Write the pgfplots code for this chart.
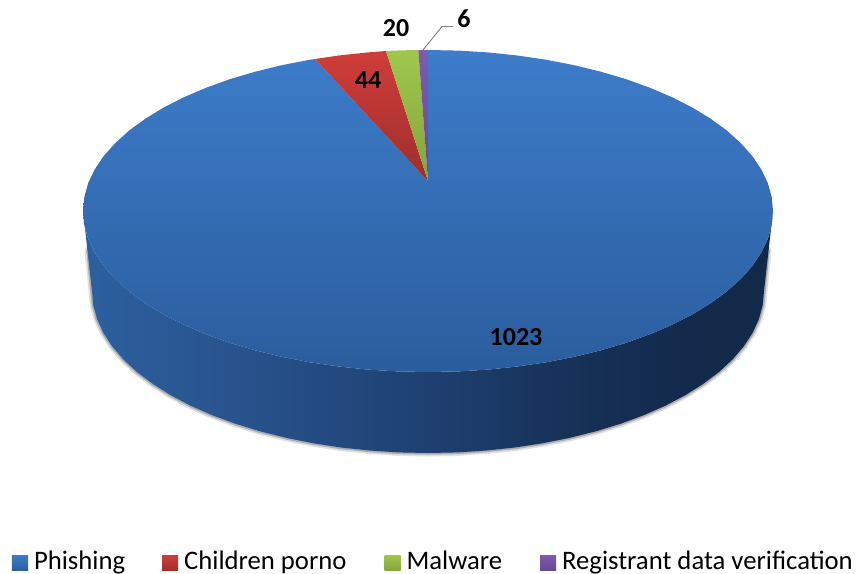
\documentclass[border=0pt]{standalone}
\usepackage{fontspec}
\setmainfont{Carlito}
\usepackage{pgfplots}
\usepackage{pgfplotstable}
\pgfplotsset{compat=1.18}
\definecolor{sA}{HTML}{2C609F}
\definecolor{sB}{HTML}{28538D}
\definecolor{sC}{HTML}{1E4071}
\definecolor{sD}{HTML}{162F54}
\definecolor{sE}{HTML}{12294A}
\definecolor{HTMLtopB}{HTML}{3D7CCA}
\definecolor{HTMLbotB}{HTML}{2B5D9D}
\definecolor{HTMLtopR}{HTML}{CF3D3A}
\definecolor{HTMLbotR}{HTML}{9E2E2C}
\definecolor{HTMLtopG}{HTML}{9FC74C}
\definecolor{HTMLbotG}{HTML}{84A43C}
\definecolor{HTMLtopP}{HTML}{7E5BAE}
\definecolor{HTMLbotP}{HTML}{664891}
\pgfdeclarehorizontalshading{pieside}{100bp}{color(0bp)=(sA); color(25bp)=(sA); color(36bp)=(sB); color(50bp)=(sC); color(62bp)=(sD); color(70bp)=(sE); color(100bp)=(sE)}
\pgfplotstableread{
x y
773 211
771.7 225.0
767.8 239.0
761.2 252.7
752.2 266.1
740.7 279.0
726.8 291.5
710.6 303.3
692.3 314.5
672.0 324.8
649.8 334.3
625.9 342.9
600.5 350.4
573.8 356.9
546.0 362.3
517.3 366.5
487.9 369.6
458.1 371.4
428 372
397.9 371.4
368.1 369.6
338.7 366.5
310.0 362.3
282.2 356.9
255.5 350.4
230.1 342.9
206.2 334.3
184.0 324.8
163.7 314.5
145.4 303.3
129.2 291.5
115.3 279.0
103.8 266.1
94.8 252.7
88.2 239.0
84.3 225.0
83 211
92 291
93.3 305.1
97.1 319.1
103.4 332.9
112.3 346.4
123.5 359.5
137 372
152.8 383.9
170.6 395.1
190.4 405.6
212 415.1
235.3 423.7
260 431.3
286 437.8
313.1 443.2
341 447.5
369.7 450.5
398.7 452.4
428 453
457.3 452.4
486.3 450.5
515 447.5
542.9 443.2
570 437.8
596 431.3
620.7 423.7
644 415.1
665.6 405.6
685.4 395.1
703.2 383.9
719 372
732.5 359.5
743.7 346.4
752.6 332.9
758.9 319.1
762.7 305.1
764 291
}\sidetbl
\pgfplotstableread{
x y
88 250
92 291
93.3 305.1
97.1 319.1
103.4 332.9
112.3 346.4
123.5 359.5
137 372
152.8 383.9
170.6 395.1
190.4 405.6
212 415.1
235.3 423.7
260 431.3
286 437.8
313.1 443.2
341 447.5
369.7 450.5
398.7 452.4
428 453
457.3 452.4
486.3 450.5
515 447.5
542.9 443.2
570 437.8
596 431.3
620.7 423.7
644 415.1
665.6 405.6
685.4 395.1
703.2 383.9
719 372
732.5 359.5
743.7 346.4
752.6 332.9
758.9 319.1
762.7 305.1
764 291
768 250
}\shadowtbl
\pgfplotstableread{
x y
428 181
428 50
458.1 50.6
487.9 52.4
517.3 55.5
546.0 59.7
573.8 65.1
600.5 71.6
625.9 79.1
649.8 87.7
672.0 97.2
692.3 107.5
710.6 118.7
726.8 130.5
740.7 143.0
752.2 155.9
761.2 169.3
767.8 183.0
771.7 197.0
773 211
771.7 225.0
767.8 239.0
761.2 252.7
752.2 266.1
740.7 279.0
726.8 291.5
710.6 303.3
692.3 314.5
672.0 324.8
649.8 334.3
625.9 342.9
600.5 350.4
573.8 356.9
546.0 362.3
517.3 366.5
487.9 369.6
458.1 371.4
428 372
397.9 371.4
368.1 369.6
338.7 366.5
310.0 362.3
282.2 356.9
255.5 350.4
230.1 342.9
206.2 334.3
184.0 324.8
163.7 314.5
145.4 303.3
129.2 291.5
115.3 279.0
103.8 266.1
94.8 252.7
88.2 239.0
84.3 225.0
83 211
84.3 197.0
88.2 183.0
94.8 169.3
103.8 155.9
115.3 143.0
129.2 130.5
145.4 118.7
163.7 107.5
184.0 97.2
206.2 87.7
230.1 79.1
255.5 71.6
282.2 65.1
310.0 59.7
315 59
}\phishing
\pgfplotstableread{
x y
428 181
315 59
338.7 55.5
368.1 52.4
386 51
}\children
\pgfplotstableread{
x y
428 181
386 51
400 50.4
418.3 50
}\malware
\pgfplotstableread{
x y
428 181
418.3 50
428 50
}\registrant
\begin{document}
\begin{tikzpicture}
\path[use as bounding box] (0,0) rectangle (858pt,573pt);
\begin{axis}[
  scale only axis, width=858pt, height=573pt,
  xmin=0, xmax=858, ymin=0, ymax=573, y dir=reverse,
  hide axis, clip=false,
  legend style={at={(axis cs:12,561)}, anchor=west, draw=none, fill=none,
    legend columns=4, font=\fontsize{26.7}{28}\selectfont, inner sep=0pt, outer sep=0pt,
    /tikz/column 1/.style={column sep=4pt},
    /tikz/column 2/.style={column sep=35pt},
    /tikz/column 3/.style={column sep=4pt},
    /tikz/column 4/.style={column sep=36pt},
    /tikz/column 5/.style={column sep=4pt},
    /tikz/column 6/.style={column sep=36pt},
    /tikz/column 7/.style={column sep=4pt}},
  legend cell align=left,
]
\addplot[forget plot, draw=black!12, line width=7pt, line cap=round] table {\shadowtbl};
\addplot[forget plot, draw=black!32, line width=3.5pt, line cap=round] table {\shadowtbl};
\addplot[forget plot, shade, shading=pieside, draw=none] table {\sidetbl} -- cycle;
\addplot[shade, top color=HTMLtopB, bottom color=HTMLbotB, draw=none,
  legend image code/.code={\shade[top color=HTMLtopB, bottom color=HTMLbotB] (0pt,-9.5pt) rectangle (16pt,5.5pt);}]
  table {\phishing} -- cycle;
\addlegendentry{Phishing}
\addplot[shade, top color=HTMLtopR, bottom color=HTMLbotR, draw=none,
  legend image code/.code={\shade[top color=HTMLtopR, bottom color=HTMLbotR] (0pt,-9.5pt) rectangle (16pt,5.5pt);}]
  table {\children} -- cycle;
\addlegendentry{Children porno}
\addplot[shade, top color=HTMLtopG, bottom color=HTMLbotG, draw=none,
  legend image code/.code={\shade[top color=HTMLtopG, bottom color=HTMLbotG] (0pt,-9.5pt) rectangle (16pt,5.5pt);}]
  table {\malware} -- cycle;
\addlegendentry{Malware}
\addplot[shade, top color=HTMLtopP, bottom color=HTMLbotP, draw=none,
  legend image code/.code={\shade[top color=HTMLtopP, bottom color=HTMLbotP] (0pt,-9.5pt) rectangle (16pt,5.5pt);}]
  table {\registrant} -- cycle;
\addlegendentry{Registrant data verification}
\addplot[forget plot, draw=black!50, line width=0.9pt] coordinates {(423,50) (442,26.5) (453,26.5)};
\node[font=\fontsize{26}{28}\selectfont\bfseries] at (axis cs:516,337) {1023};
\node[font=\fontsize{26}{28}\selectfont\bfseries] at (axis cs:368,80) {44};
\node[font=\fontsize{26}{28}\selectfont\bfseries] at (axis cs:396,28) {20};
\node[font=\fontsize{26}{28}\selectfont\bfseries] at (axis cs:464,19) {6};
\end{axis}
\end{tikzpicture}
\end{document}
